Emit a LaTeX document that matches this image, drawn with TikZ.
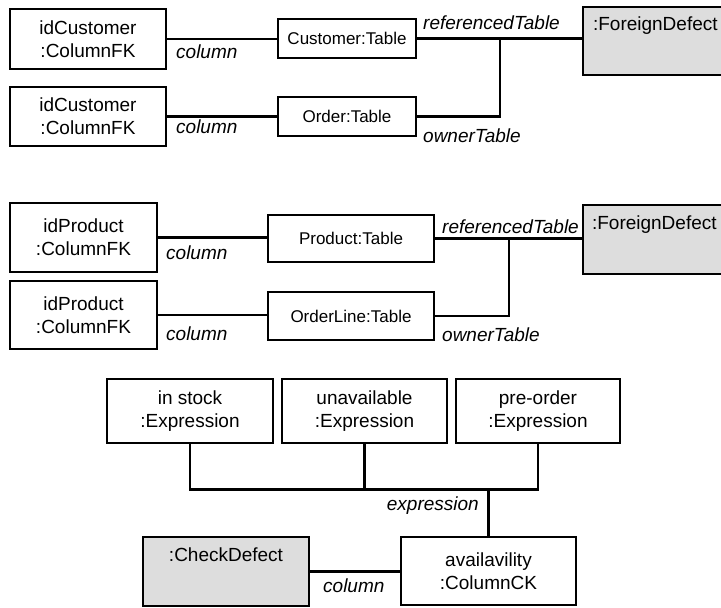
\documentclass[tikz,border=0pt]{standalone}
\usepackage{fontspec}
\setmainfont{Liberation Sans}
\definecolor{defectgray}{RGB}{221,221,221}
\begin{document}
\begin{tikzpicture}[x=1pt,y=-1pt,
  obj/.style={draw, line width=2.3pt, inner sep=0pt, align=center,
              font=\fontsize{19}{23}\selectfont},
  tbl/.style={obj, font=\fontsize{17}{20}\selectfont},
  defect/.style={obj, fill=defectgray},
  title/.style={inner sep=0pt, font=\fontsize{19}{23}\selectfont},
  link/.style={line width=2.1pt},
  role/.style={inner sep=0pt, font=\fontsize{19}{23}\selectfont\itshape},
]
\useasboundingbox (0,0) rectangle (721,608);
\clip (0,0) rectangle (721,608);

% --- Customer / Order foreign key
\node[obj, minimum width=156pt, minimum height=60pt] (a1) at (88,39) {idCustomer\\:ColumnFK};
\node[obj, minimum width=156pt, minimum height=59pt] (a2) at (88,116.5) {idCustomer\\:ColumnFK};
\node[tbl, minimum width=138pt, minimum height=39pt] (ct) at (347,38.5) {Customer:Table};
\node[tbl, minimum width=138pt, minimum height=39pt] (ot) at (347,116.5) {Order:Table};
\node[defect, minimum width=157pt, minimum height=68pt,
      label={[title, anchor=north west, xshift=11pt, yshift=-11pt]north west:{:ForeignDefect}}]
      (fd1) at (661.5,41) {};
\coordinate (j1) at (500,39);

\draw[link] (a1.east) -- (ct.west |- a1.east);
\draw[link] (a2.east) -- (ot.west |- a2.east);
\draw[link] (ct.east) -- (fd1.west |- ct.east);
\draw[link] (ot.east) -| (j1);

\node[role, anchor=west] at (176,52) {column};
\node[role, anchor=west] at (176,127) {column};
\node[role, anchor=west] at (423,23) {referencedTable};
\node[role, anchor=west] at (423,136) {ownerTable};

% --- Product / OrderLine foreign key
\node[obj, minimum width=147pt, minimum height=69pt] (b1) at (83.5,237.5) {idProduct\\:ColumnFK};
\node[obj, minimum width=147pt, minimum height=68pt] (b2) at (83.5,315) {idProduct\\:ColumnFK};
\node[tbl, minimum width=166pt, minimum height=47pt] (pt) at (351,238.5) {Product:Table};
\node[tbl, minimum width=166pt, minimum height=48pt] (olt) at (351,316) {OrderLine:Table};
\node[defect, minimum width=157pt, minimum height=69pt,
      label={[title, anchor=north west, xshift=10pt, yshift=-12pt]north west:{:ForeignDefect}}]
      (fd2) at (661.5,239.5) {};
\coordinate (j2) at (509,239);

\draw[link] (b1.east) -- (pt.west |- b1.east);
\draw[link] (b2.east) -- (olt.west |- b2.east);
\draw[link] (pt.east) -- (fd2.west |- pt.east);
\draw[link] (olt.east) -| (j2);

\node[role, anchor=west] at (166,253) {column};
\node[role, anchor=west] at (166,334) {column};
\node[role, anchor=west] at (442,227) {referencedTable};
\node[role, anchor=west] at (442,335) {ownerTable};

% --- check constraint on availability
\node[obj, minimum width=166pt, minimum height=64pt] (e1) at (190,411) {in stock\\:Expression};
\node[obj, minimum width=165pt, minimum height=64pt] (e2) at (364.5,411) {unavailable\\:Expression};
\node[obj, minimum width=164pt, minimum height=64pt] (e3) at (538,411) {pre-order\\:Expression};
\node[obj, minimum width=175pt, minimum height=68pt] (av) at (488.5,571) {availavility\\:ColumnCK};
\node[defect, minimum width=166pt, minimum height=69pt,
      label={[title, anchor=north, yshift=-12pt]north:{:CheckDefect}}]
      (cd) at (226,571.5) {};
\coordinate (jb) at (488.5,489.5);

\draw[link] (e1.south) |- (jb);
\draw[link] (e3.south) |- (jb);
\draw[link] (e2.south) -- (e2.south |- jb);
\draw[link] (jb) -- (av.north);
\draw[link] (cd.east) -- (av.west |- cd.east);

\node[role, anchor=east] at (479,506) {expression};
\node[role, anchor=west] at (323,586) {column};
\end{tikzpicture}
\end{document}
